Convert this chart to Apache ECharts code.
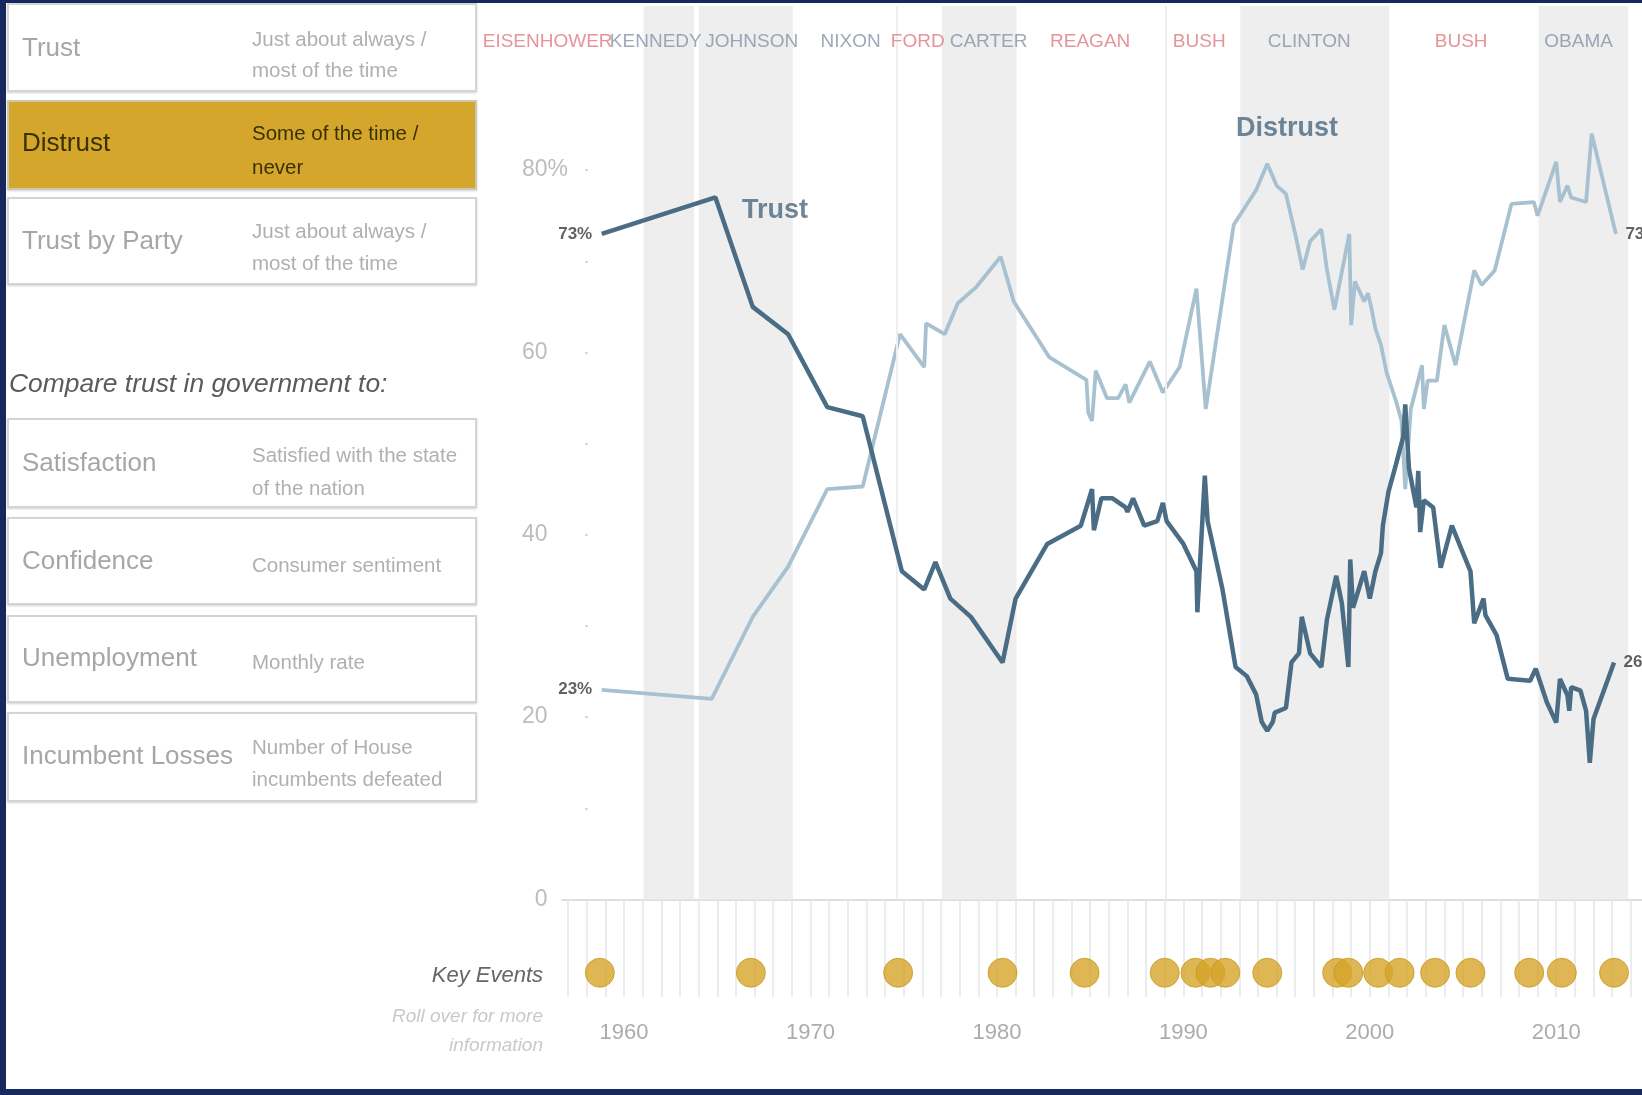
<!DOCTYPE html>
<html>
<head>
<meta charset="utf-8">
<script src="https://cdn.jsdelivr.net/npm/echarts@6/dist/echarts.min.js"></script>
<style>
  html, body { margin:0; padding:0; width:1642px; height:1095px; overflow:hidden; background:#17285e; font-family:'Liberation Sans', Arial, sans-serif; }
  #paper { position:absolute; left:6px; top:3px; right:0; bottom:6px; background:#fff; }
  #chart { position:absolute; left:0; top:0; width:1642px; height:1095px; z-index:1; }
  .box { position:absolute; left:7px; width:470px; box-sizing:border-box; border:2px solid #d4d4d4; background:#fff; box-shadow:0 1px 2px rgba(0,0,0,0.18); z-index:2; }
  .box.sel { background:#d4a62c; border-color:#cfc6b0; }
  .t { position:absolute; left:22px; font-size:26px; line-height:30px; color:#a6a6a6; white-space:nowrap; z-index:3; }
  .d { position:absolute; left:252px; font-size:20.5px; color:#b0b0b0; white-space:nowrap; z-index:3; }
  .sel-t { color:#3a3000; }
  .sel-d { color:#3a3000; }
  .hd { position:absolute; left:9px; top:368px; font-size:26.4px; line-height:30px; font-style:italic; color:#5a5a5a; white-space:nowrap; z-index:3; }
  .ke { position:absolute; right:1099px; text-align:right; font-style:italic; white-space:nowrap; z-index:3; }
</style>
</head>
<body>
<div id="paper"></div>
<div id="chart"></div>

<div class="box" style="top:3px;height:89px"></div>
<div class="t" style="top:32px">Trust</div>
<div class="d" style="top:23px;line-height:31px">Just about always /<br>most of the time</div>

<div class="box sel" style="top:100px;height:90px"></div>
<div class="t sel-t" style="top:127px">Distrust</div>
<div class="d sel-d" style="top:116px;line-height:34px">Some of the time /<br>never</div>

<div class="box" style="top:197px;height:88px"></div>
<div class="t" style="top:225px">Trust by Party</div>
<div class="d" style="top:215px;line-height:32px">Just about always /<br>most of the time</div>

<div class="hd">Compare trust in government to:</div>

<div class="box" style="top:418px;height:90px"></div>
<div class="t" style="top:447px">Satisfaction</div>
<div class="d" style="top:438px;line-height:33px">Satisfied with the state<br>of the nation</div>

<div class="box" style="top:517px;height:88px"></div>
<div class="t" style="top:545px">Confidence</div>
<div class="d" style="top:550px;line-height:30px">Consumer sentiment</div>

<div class="box" style="top:615px;height:88px"></div>
<div class="t" style="top:642px">Unemployment</div>
<div class="d" style="top:647px;line-height:30px">Monthly rate</div>

<div class="box" style="top:712px;height:90px"></div>
<div class="t" style="top:740px">Incumbent Losses</div>
<div class="d" style="top:731px;line-height:32px">Number of House<br>incumbents defeated</div>

<div class="ke" style="top:961px;font-size:22px;line-height:28px;color:#666">Key Events</div>
<div class="ke" style="top:1001px;font-size:19px;line-height:29px;color:#c9c9c9">Roll over for more<br>information</div>

<script>
// ---------- DATA ----------
const trustYears = [1958.8, 1964.9, 1966.9, 1968.8, 1970.9, 1972.8, 1974.9, 1976.1, 1976.7, 1977.5, 1978.6, 1980.3, 1981.0, 1982.7, 1984.5, 1985.1, 1985.2, 1985.6, 1986.2, 1986.9, 1987.0, 1987.3, 1987.9, 1988.6, 1988.9, 1989.1, 1990.0, 1990.7, 1990.75, 1991.15, 1991.3, 1992.1, 1992.8, 1993.4, 1993.9, 1994.2, 1994.5, 1994.8, 1994.9, 1995.5, 1995.8, 1996.2, 1996.35, 1996.8, 1997.4, 1997.7, 1998.2, 1998.5, 1998.85, 1998.95, 1999.1, 1999.7, 2000.0, 2000.3, 2000.6, 2000.7, 2001.0, 2001.4, 2001.8, 2001.9, 2002.1, 2002.5, 2002.6, 2002.7, 2002.9, 2003.4, 2003.8, 2004.4, 2005.4, 2005.6, 2006.1, 2006.2, 2006.8, 2007.4, 2008.6, 2008.9, 2009.5, 2010.0, 2010.2, 2010.6, 2010.7, 2010.8, 2011.3, 2011.6, 2011.8, 2012.0, 2013.1];
const trustValues = [73, 77, 65, 62, 54, 53, 36, 34, 37, 33, 31, 26, 33, 39, 41, 45, 40.5, 44, 44, 43, 42.5, 44, 41, 41.5, 43.5, 41.5, 39, 36, 31.5, 46.5, 41.5, 34, 25.5, 24.5, 22.5, 19.5, 18.5, 19.5, 20.5, 21, 26, 27, 31, 27, 25.5, 30.7, 35.5, 32.5, 25.5, 37.3, 32, 36, 33, 36, 38, 41, 44.7, 47.7, 50.8, 54.3, 47.3, 43, 47, 40.3, 43.8, 43, 36.4, 41, 36, 30.3, 33, 31.2, 29, 24.2, 24, 25.3, 21.6, 19.4, 24.2, 22.4, 20.7, 23.3, 22.9, 20.7, 15, 19.8, 26];

const distrustYears = [1958.8, 1964.7, 1966.9, 1968.8, 1970.9, 1972.8, 1974.8, 1976.1, 1976.2, 1977.2, 1977.9, 1978.9, 1980.2, 1980.9, 1982.8, 1984.8, 1984.9, 1985.1, 1985.3, 1985.9, 1986.5, 1986.9, 1987.1, 1988.2, 1988.9, 1989.8, 1990.7, 1991.2, 1992.7, 1993.9, 1994.5, 1995.0, 1995.5, 1996.0, 1996.4, 1996.8, 1997.4, 1997.7, 1998.1, 1998.4, 1998.9, 1999.0, 1999.2, 1999.7, 1999.9, 2000.1, 2000.3, 2000.6, 2000.9, 2001.4, 2001.7, 2001.9, 2002.2, 2002.8, 2002.9, 2003.1, 2003.6, 2004.0, 2004.6, 2005.6, 2006.0, 2006.7, 2007.6, 2008.8, 2009.0, 2010.0, 2010.2, 2010.6, 2010.8, 2011.6, 2011.9, 2013.2];
const distrustValues = [23, 22, 31, 36.5, 45, 45.3, 62, 58.4, 63.2, 62, 65.4, 67.2, 70.5, 65.6, 59.5, 57, 53.4, 52.5, 58, 55, 55, 56.5, 54.5, 59, 55.6, 58.4, 67, 53.8, 74, 77.8, 80.7, 78.3, 77.4, 73, 69.1, 72.2, 73.5, 69.1, 64.7, 67.8, 73, 63, 67.8, 65.6, 66.5, 64.7, 62.6, 60.8, 57.8, 54.7, 52.5, 45, 53.8, 58.6, 53.8, 56.9, 56.9, 63, 58.6, 69, 67.4, 69, 76.3, 76.5, 75, 80.9, 76.5, 78.3, 77, 76.5, 84, 73];

const eventYears = [1958.7, 1966.8, 1974.7, 1980.3, 1984.7, 1989.0, 1990.65, 1991.45, 1992.25, 1994.5, 1998.25, 1998.85, 2000.45, 2001.6, 2003.5, 2005.4, 2008.55, 2010.3, 2013.1];

const presidentNames = ['EISENHOWER', 'KENNEDY', 'JOHNSON', 'NIXON', 'FORD', 'CARTER', 'REAGAN', 'BUSH', 'CLINTON', 'BUSH', 'OBAMA'];
const presidentLabelYears = [1955.9, 1961.7, 1966.85, 1972.15, 1975.75, 1979.55, 1985.0, 1990.85, 1996.75, 2004.9, 2011.2];
const presidentParty = ['R', 'D', 'D', 'D', 'R', 'D', 'R', 'R', 'D', 'R', 'D'];

const bandStarts = [1961.05, 1964.0, 1977.05, 1993.05, 2009.05];
const bandEnds   = [1963.75, 1969.05, 1981.05, 2001.05, 2013.86];
const boundaryYears = [1974.6, 1989.05];

const tickYears = [1957, 1958, 1959, 1960, 1961, 1962, 1963, 1964, 1965, 1966, 1967, 1968, 1969, 1970, 1971, 1972, 1973, 1974, 1975, 1976, 1977, 1978, 1979, 1980, 1981, 1982, 1983, 1984, 1985, 1986, 1987, 1988, 1989, 1990, 1991, 1992, 1993, 1994, 1995, 1996, 1997, 1998, 1999, 2000, 2001, 2002, 2003, 2004, 2005, 2006, 2007, 2008, 2009, 2010, 2011, 2012, 2013, 2014];
const yearLabels = [1960, 1970, 1980, 1990, 2000, 2010];
const yTicks = [0, 10, 20, 30, 40, 50, 60, 70, 80];
const yLabels = [0, 20, 40, 60, 80];

const annotations = [
  { text: 'Trust', year: 1966.3, value: 75.6 },
  { text: 'Distrust', year: 1992.8, value: 84.6 }
];

// ---------- CHART ----------
const FONT = "'Liberation Sans', Arial, sans-serif";
const X_MIN = 1956.67, X_MAX = 2014.6;
const LABEL_ROW = 94.05;
const TRUST_COLOR = '#4a6d85';
const DISTRUST_COLOR = '#a8c1d1';
const pair = (xs, ys) => xs.map((x, i) => [x, ys[i]]);
const trustData = pair(trustYears, trustValues);
const distrustData = pair(distrustYears, distrustValues);

const chart = echarts.init(document.getElementById('chart'), null, { renderer: 'canvas' });
chart.setOption({
  animation: false,
  textStyle: { fontFamily: FONT },
  grid: [
    { left: 562, right: 0, top: 6, height: 893.5 },
    { left: 562, right: 0, top: 900, height: 97 }
  ],
  xAxis: [
    { gridIndex: 0, type: 'value', min: X_MIN, max: X_MAX,
      axisLine: { show: true, onZero: false, lineStyle: { color: '#dedede', width: 2 } },
      axisTick: { show: false }, axisLabel: { show: false }, splitLine: { show: false } },
    { gridIndex: 1, type: 'value', min: X_MIN, max: X_MAX, position: 'bottom',
      axisLine: { show: false, onZero: false },
      axisTick: { show: true, inside: true, length: 97, customValues: tickYears, lineStyle: { color: '#e6e6e6', width: 1.5 } },
      axisLabel: { show: true, customValues: yearLabels, margin: 25, color: '#acacac', fontSize: 22, formatter: v => String(v) },
      splitLine: { show: false } }
  ],
  yAxis: [
    { gridIndex: 0, type: 'value', min: 0, max: 98, offset: -26,
      axisLine: { show: false },
      axisTick: { show: true, length: 3, customValues: yTicks, lineStyle: { color: '#d8d8d8', width: 2 } },
      axisLabel: { show: true, customValues: yLabels, margin: 20, fontSize: 23, color: '#bdbdbd',
        formatter: v => v === 80 ? '80%' : v + '{h|%}',
        rich: { h: { color: 'rgba(0,0,0,0)', fontSize: 23 } } },
      splitLine: { show: false } },
    { gridIndex: 1, type: 'value', min: -1, max: 3, show: false }
  ],
  series: [
    { // presidency bands + boundaries
      type: 'line', xAxisIndex: 0, yAxisIndex: 0, data: [], z: 1, silent: true,
      markArea: { silent: true, itemStyle: { color: '#eeeeee' },
        data: bandStarts.map((s, i) => [{ xAxis: s }, { xAxis: bandEnds[i] }]) },
      markLine: { silent: true, symbol: 'none', label: { show: false },
        lineStyle: { color: '#efefef', width: 2, type: 'solid' },
        data: boundaryYears.map(y => ({ xAxis: y })) }
    },
    { // president names
      type: 'scatter', xAxisIndex: 0, yAxisIndex: 0, clip: false, silent: true, z: 6,
      symbolSize: 1, itemStyle: { color: 'rgba(0,0,0,0)' },
      data: presidentLabelYears.map((y, i) => ({ value: [y, LABEL_ROW],
        label: { color: presidentParty[i] === 'R' ? '#df7b7e' : '#8594a6' } })),
      label: { show: true, position: 'inside', fontSize: 19,
        formatter: p => presidentNames[p.dataIndex] }
    },
    { name: 'Distrust', type: 'line', xAxisIndex: 0, yAxisIndex: 0, data: distrustData,
      showSymbol: false, symbol: 'none', z: 4, silent: true,
      lineStyle: { color: DISTRUST_COLOR, width: 3.8 } },
    { name: 'Trust', type: 'line', xAxisIndex: 0, yAxisIndex: 0, data: trustData,
      showSymbol: false, symbol: 'none', z: 5, silent: true,
      lineStyle: { color: TRUST_COLOR, width: 4.5 } },
    { // start labels
      type: 'scatter', xAxisIndex: 0, yAxisIndex: 0, clip: false, silent: true, z: 7,
      symbolSize: 1, itemStyle: { color: 'rgba(0,0,0,0)' },
      data: [trustData[0], distrustData[0]],
      label: { show: true, position: 'left', distance: 9, fontSize: 17, fontWeight: 'bold', color: '#3a3a3a',
        formatter: p => Math.round(p.value[1]) + '%' }
    },
    { // end labels
      type: 'scatter', xAxisIndex: 0, yAxisIndex: 0, clip: false, silent: true, z: 7,
      symbolSize: 1, itemStyle: { color: 'rgba(0,0,0,0)' },
      data: [trustData[trustData.length - 1], distrustData[distrustData.length - 1]],
      label: { show: true, position: 'right', distance: 9, fontSize: 17, fontWeight: 'bold', color: '#3a3a3a',
        formatter: p => Math.round(p.value[1]) + '%' }
    },
    { // series name annotations
      type: 'scatter', xAxisIndex: 0, yAxisIndex: 0, clip: false, silent: true, z: 7,
      symbolSize: 1, itemStyle: { color: 'rgba(0,0,0,0)' },
      data: annotations.map(a => [a.year, a.value]),
      label: { show: true, position: 'right', distance: 0, fontSize: 27, fontWeight: 'bold', color: '#4a687e',
        formatter: p => annotations[p.dataIndex].text }
    },
    { // key events
      type: 'scatter', xAxisIndex: 1, yAxisIndex: 1, silent: true, z: 5,
      data: eventYears.map(y => [y, 0]),
      symbolSize: 29,
      itemStyle: { color: '#d6a529', borderColor: '#c8981f', borderWidth: 1 }
    }
  ]
});
</script>
</body>
</html>
